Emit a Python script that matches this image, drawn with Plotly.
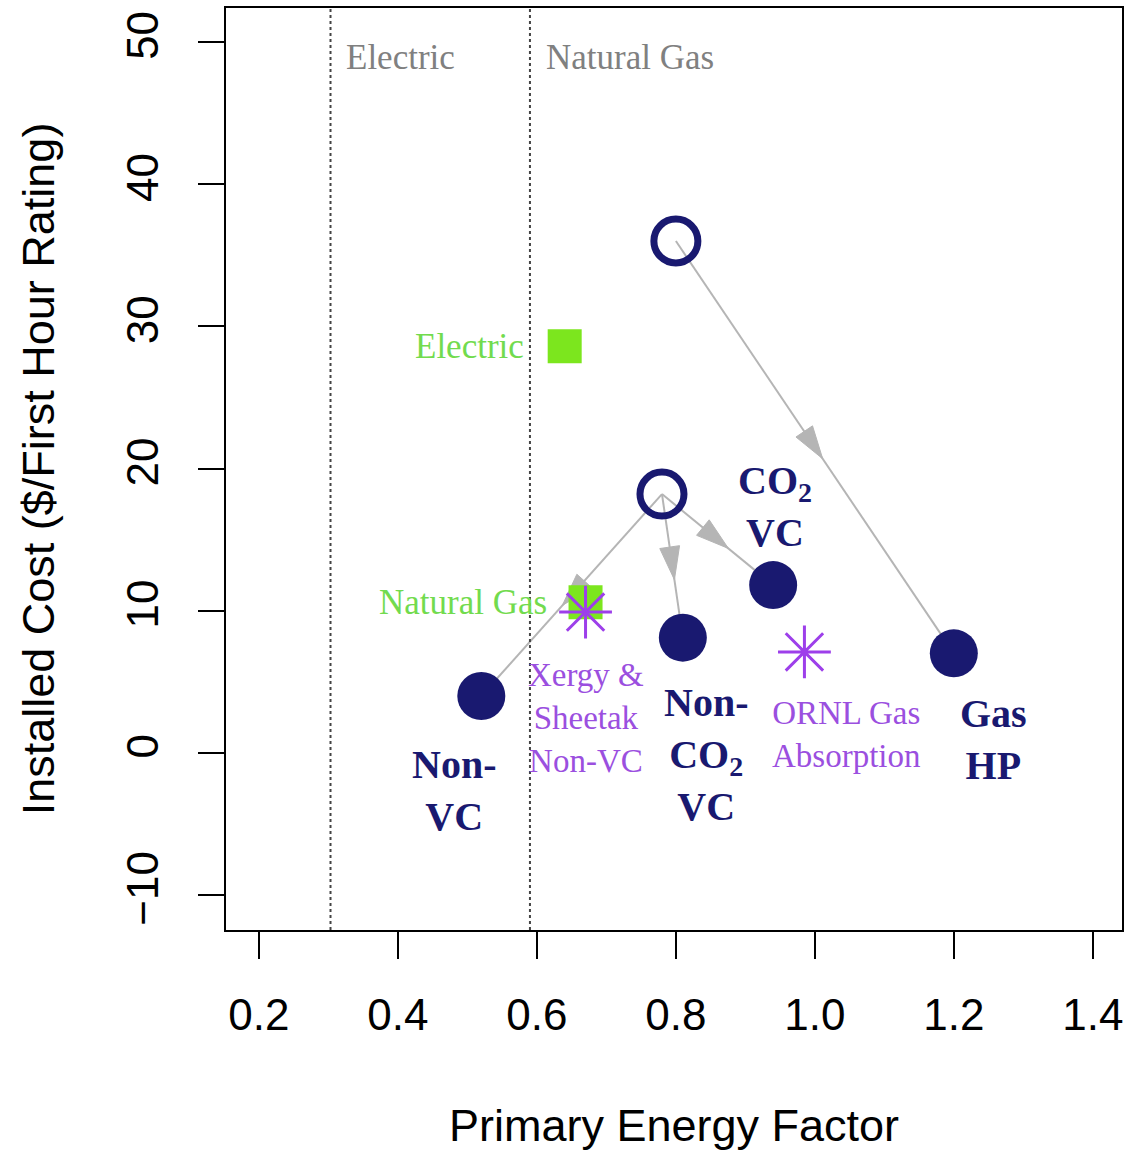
import math
import plotly.graph_objects as go

# ---- data ----
open_names = ["Gas baseline", "Electric baseline"]
open_x = [0.80, 0.78]
open_y = [36.0, 18.2]

tech_names = ["Non-<br>VC", "Non-<br>CO<sub>2</sub><br>VC", "CO<sub>2</sub><br>VC", "Gas<br>HP"]
tech_x = [0.52, 0.81, 0.94, 1.20]
tech_y = [4.0, 8.1, 11.8, 7.0]
tech_origin = [1, 1, 1, 0]

base_names = ["Electric", "Natural Gas"]
base_x = [0.64, 0.67]
base_y = [28.6, 10.6]

comp_names = ["Xergy &<br>Sheetak<br>Non-VC", "ORNL Gas<br>Absorption"]
comp_x = [0.67, 0.985]
comp_y = [9.9, 7.1]

bound_names = ["Electric", "Natural Gas"]
bound_x = [0.303, 0.59]

x_ticks = [0.2, 0.4, 0.6, 0.8, 1.0, 1.2, 1.4]
x_ticktext = ["0.2", "0.4", "0.6", "0.8", "1.0", "1.2", "1.4"]
y_ticks = [-10, 0, 10, 20, 30, 40, 50]

# ---- styles / layout ----
NAVY = "#191970"
GREEN = "#7CE61E"
GREEN_TXT = "#72DB4E"
PURPLE = "#9D3FEA"
PURPLE_TXT = "#9B4FDF"
ARROW = "#B5B5B5"
SERIF = "Liberation Serif"
SANS = "Liberation Sans, Arial, sans-serif"

X_RANGE = [0.1526, 1.442]
Y_RANGE = [-12.46, 52.39]
FIG_W, FIG_H = 1126, 1151
M_L, M_R, M_T, M_B = 226, 2, 8, 221
PX_X = (FIG_W - M_L - M_R) / (X_RANGE[1] - X_RANGE[0])
PX_Y = (FIG_H - M_T - M_B) / (Y_RANGE[1] - Y_RANGE[0])

tech_lab = [(0.481, -2.67), (0.843, -0.14), (0.942, 17.3), (1.257, 0.91)]
comp_lab = [(0.671, 2.46), (1.046, 1.27)]
base_lab_dx = [-0.06, -0.058]

fig = go.Figure()

# connecting lines with arrowheads at the midpoint
HEAD_FWD, HEAD_BACK, HEAD_HALF = 14, 19, 10
for i in range(len(tech_x)):
    o = tech_origin[i]
    x0, y0, x1, y1 = open_x[o], open_y[o], tech_x[i], tech_y[i]
    fig.add_trace(go.Scatter(x=[x0, x1], y=[y0, y1], mode="lines",
                             line=dict(color=ARROW, width=2),
                             hoverinfo="skip", showlegend=False))
    mx, my = (x0 + x1) / 2, (y0 + y1) / 2
    dxp, dyp = (x1 - x0) * PX_X, (y1 - y0) * PX_Y
    n = math.hypot(dxp, dyp)
    ux, uy = dxp / n, dyp / n
    tip = (mx + ux * HEAD_FWD / PX_X, my + uy * HEAD_FWD / PX_Y)
    bx, by = mx - ux * HEAD_BACK / PX_X, my - uy * HEAD_BACK / PX_Y
    p1 = (bx - uy * HEAD_HALF / PX_X, by + ux * HEAD_HALF / PX_Y)
    p2 = (bx + uy * HEAD_HALF / PX_X, by - ux * HEAD_HALF / PX_Y)
    fig.add_trace(go.Scatter(x=[tip[0], p1[0], p2[0], tip[0]],
                             y=[tip[1], p1[1], p2[1], tip[1]],
                             mode="lines", fill="toself", fillcolor=ARROW,
                             line=dict(color=ARROW, width=1),
                             hoverinfo="skip", showlegend=False))

# boundary lines
for bxv, bn in zip(bound_x, bound_names):
    fig.add_shape(type="line", x0=bxv, x1=bxv, y0=0, y1=1, xref="x", yref="paper",
                  line=dict(color="#444444", width=2, dash="dot"))
    fig.add_annotation(x=bxv + 0.02, y=48.9, text=bn, showarrow=False, xanchor="left",
                       font=dict(family=SERIF, size=35, color="#808080"))

# baseline squares
fig.add_trace(go.Scatter(x=base_x, y=base_y, mode="markers",
                         marker=dict(symbol="square", size=34, color=GREEN,
                                     line=dict(width=0)),
                         showlegend=False))
for bxv, byv, bn, dx in zip(base_x, base_y, base_names, base_lab_dx):
    fig.add_annotation(x=bxv + dx + 0.005, y=byv, text=bn, showarrow=False, xanchor="right",
                       font=dict(family=SERIF, size=35, color=GREEN_TXT))

# competitors
fig.add_trace(go.Scatter(x=comp_x, y=comp_y, mode="markers",
                         marker=dict(symbol="asterisk-open", size=44, color=PURPLE,
                                     line=dict(color=PURPLE, width=3)),
                         showlegend=False))
for (lx, ly), cn in zip(comp_lab, comp_names):
    fig.add_annotation(x=lx, y=ly, text=cn, showarrow=False,
                       font=dict(family=SERIF, size=33, color=PURPLE_TXT))

# open circles
fig.add_trace(go.Scatter(x=open_x, y=open_y, mode="markers",
                         marker=dict(symbol="circle-open", size=44, color=NAVY,
                                     line=dict(color=NAVY, width=7)),
                         showlegend=False))
# filled circles
fig.add_trace(go.Scatter(x=tech_x, y=tech_y, mode="markers",
                         marker=dict(symbol="circle", size=48, color=NAVY,
                                     line=dict(width=0)),
                         showlegend=False))
for (lx, ly), tn in zip(tech_lab, tech_names):
    fig.add_annotation(x=lx, y=ly, text="<b>" + tn + "</b>", showarrow=False,
                       font=dict(family=SERIF, size=40, color=NAVY))

fig.update_layout(
    width=FIG_W, height=FIG_H,
    margin=dict(l=M_L, r=M_R, t=M_T, b=M_B),
    paper_bgcolor="white", plot_bgcolor="white",
    showlegend=False,
    xaxis=dict(range=X_RANGE, tickvals=x_ticks, ticktext=x_ticktext,
               ticks="outside", ticklen=27, tickwidth=2, tickcolor="black",
               showline=True, mirror=True, linecolor="black", linewidth=2,
               showgrid=False, zeroline=False, ticklabelstandoff=18,
               tickfont=dict(family=SANS, size=44, color="black"),
               title=dict(text="Primary Energy Factor", standoff=72,
                          font=dict(family=SANS, size=45, color="black"))),
    yaxis=dict(range=Y_RANGE, tickvals=y_ticks,
               ticks="outside", ticklen=26, tickwidth=2, tickcolor="black",
               tickangle=-90,
               showline=True, mirror=True, linecolor="black", linewidth=2,
               showgrid=False, zeroline=False, ticklabelstandoff=22,
               tickfont=dict(family=SANS, size=44, color="black"),
               title=dict(text="Installed Cost ($/First Hour Rating)", standoff=50,
                          font=dict(family=SANS, size=45, color="black"))),
)

fig.write_html("out.html", config={"displayModeBar": False},
               post_script="document.body.style.margin='0';document.body.style.overflow='hidden';")
